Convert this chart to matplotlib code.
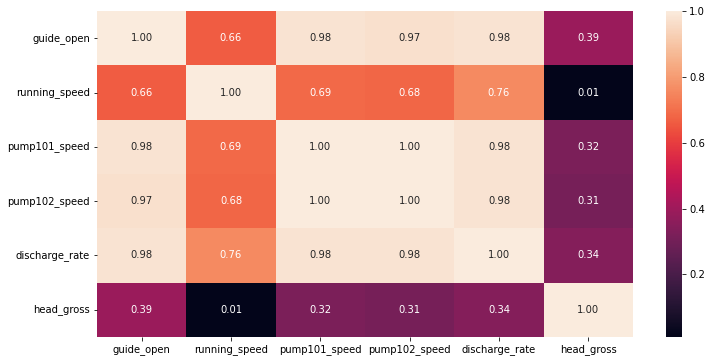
import numpy as np
import matplotlib
matplotlib.use("Agg")
import matplotlib.pyplot as plt
import seaborn as sns

labels = ["guide_open", "running_speed", "pump101_speed",
          "pump102_speed", "discharge_rate", "head_gross"]

guide_open = [1.00, 0.66, 0.98, 0.97, 0.98, 0.39]
running_speed = [0.66, 1.00, 0.69, 0.68, 0.76, 0.01]
pump101_speed = [0.98, 0.69, 1.00, 1.00, 0.98, 0.32]
pump102_speed = [0.97, 0.68, 1.00, 1.00, 0.98, 0.31]
discharge_rate = [0.98, 0.76, 0.98, 0.98, 1.00, 0.34]
head_gross = [0.39, 0.01, 0.32, 0.31, 0.34, 1.00]

corr = np.array([guide_open, running_speed, pump101_speed,
                 pump102_speed, discharge_rate, head_gross])

fig = plt.figure(figsize=(712 / 72, 362 / 72), dpi=72)
ax = fig.add_axes([97 / 712, 1 - 337 / 362, (633 - 97) / 712, (337 - 11) / 362])
cax = fig.add_axes([666 / 712, 1 - 337 / 362, 16 / 712, (337 - 11) / 362])

sns.heatmap(corr, annot=True, fmt=".2f", xticklabels=labels, yticklabels=labels,
            ax=ax, cbar_ax=cax)
ax.tick_params(axis="y", rotation=0)
ax.tick_params(axis="x", rotation=0)
cax.set_yticks([0.2, 0.4, 0.6, 0.8, 1.0])

fig.savefig("out.png", dpi=72)
